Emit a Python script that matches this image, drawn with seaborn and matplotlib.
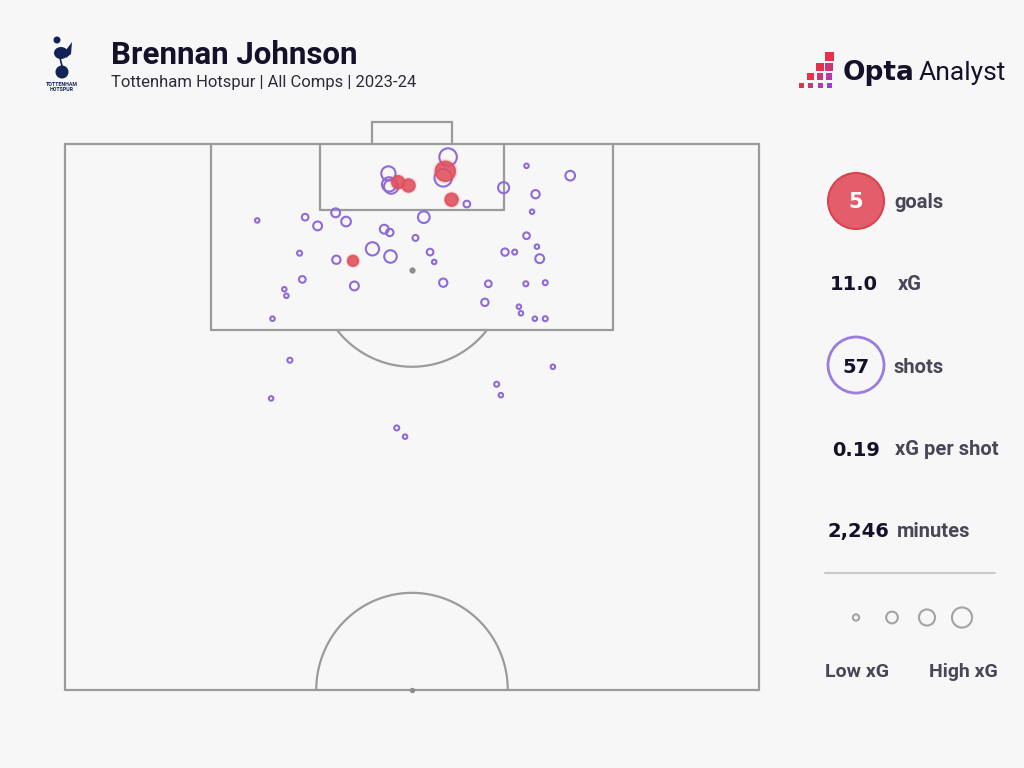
"""
Shot map: Brennan Johnson, Tottenham Hotspur, all comps 2023-24
Recreates the Opta Analyst style half-pitch chart
"""

import numpy as np
import pandas as pd
import matplotlib.pyplot as plt
import seaborn as sns
from matplotlib.patches import Circle, Ellipse, Rectangle, Polygon

sns.set_theme(style='white')
plt.rcParams['font.family'] = ['Roboto', 'DejaVu Sans']

# Data (pitch coords: x across 0-100, y along 50-100, goal at y=100)
shot_x = [27.7, 34.6, 36.4, 39.0, 40.5, 46.0, 46.8, 44.3, 46.9, 51.7,
          50.5, 52.6, 53.2, 54.5, 39.1, 33.8, 34.2, 31.6, 31.9, 29.9,
          41.7, 57.9, 63.2, 66.5, 72.8, 67.8, 67.3, 66.5, 68.0, 68.4,
          63.4, 64.8, 61.0, 66.4, 69.2, 60.5, 65.4, 65.7, 67.7, 69.2,
          46.6, 46.7, 47.0, 55.2, 54.5, 32.4, 29.7, 47.8, 49.0, 62.2,
          62.8, 70.3,
          48.0, 49.5, 54.8, 55.7, 41.5]
shot_y = [93.0, 93.3, 92.5, 93.7, 92.9, 92.2, 91.9, 90.4, 89.7, 93.3,
          91.4, 90.1, 89.2, 87.3, 89.4, 90.0, 87.6, 86.7, 86.1, 84.0,
          87.0, 94.5, 96.0, 98.0, 97.1, 95.4, 93.8, 91.6, 90.6, 89.5,
          90.1, 90.1, 87.2, 87.2, 87.3, 85.5, 85.1, 84.5, 84.0, 84.0,
          97.3, 96.3, 96.1, 98.8, 96.9, 80.2, 76.7, 74.0, 73.2, 78.0,
          77.0, 79.6,
          96.5, 96.2, 97.5, 94.9, 89.3]
shot_xg = [0.01, 0.06, 0.13, 0.13, 0.16, 0.13, 0.08, 0.33, 0.29, 0.25,
           0.04, 0.06, 0.01, 0.11, 0.11, 0.02, 0.06, 0.01, 0.01, 0.01,
           0.13, 0.06, 0.22, 0.01, 0.16, 0.11, 0.01, 0.06, 0.01, 0.13,
           0.08, 0.02, 0.06, 0.02, 0.02, 0.08, 0.01, 0.01, 0.01, 0.02,
           0.39, 0.39, 0.39, 0.60, 0.60, 0.02, 0.01, 0.02, 0.01, 0.02,
           0.01, 0.01,
           0.29, 0.29, 0.76, 0.29, 0.19]
shot_goal = [False] * 52 + [True] * 5

goals = 5
xg_total = 11.0
shots = 57
xg_per_shot = 0.19
minutes = 2246
legend_xg = [0.05, 0.25, 0.5, 0.8]

df = pd.DataFrame({'x': shot_x, 'y': shot_y, 'xg': shot_xg, 'goal': shot_goal})

# Styling
BG = '#f7f7f7'
LINE = '#9b9b9b'
PURPLE = '#8f6bd9'
RED = '#e0525e'
DARK = '#16112b'
LABEL = '#4a4658'
SIZES = (8, 260)

fig = plt.figure(figsize=(10.24, 7.68), dpi=100, facecolor=BG)

# Pitch axes
ax = fig.add_axes([65 / 1024, 78 / 768, 694 / 1024, 546 / 768])
ax.set_xlim(0, 100)
ax.set_ylim(50, 100)
ax.axis('off')


def pline(xs, ys):
    ax.plot(xs, ys, color=LINE, lw=1.6, clip_on=False, zorder=1,
            solid_joinstyle='miter')


pline([0, 100, 100, 0, 0], [50, 50, 100, 100, 50])
pline([21.1, 21.1, 78.9, 78.9], [100, 83, 83, 100])
pline([36.8, 36.8, 63.2, 63.2], [100, 94, 94, 100])
pline([44.2, 44.2, 55.8, 55.8], [100, 102, 102, 100])

t = np.linspace(0, 2 * np.pi, 600)
arc_x = 50 + 13.8 * np.cos(t)
arc_y = 88.5 + 8.9 * np.sin(t)
m = arc_y < 83
ax.plot(arc_x[m], arc_y[m], color=LINE, lw=1.6, zorder=1)
t2 = np.linspace(0, np.pi, 300)
ax.plot(50 + 13.8 * np.cos(t2), 50 + 8.9 * np.sin(t2), color=LINE, lw=1.6, zorder=1)
ax.scatter([50], [88.5], s=12, color='#8d8d8d', zorder=1)
ax.scatter([50], [50], s=8, color='#8d8d8d', zorder=1, clip_on=False)

# Shots
sns.scatterplot(data=df[~df['goal']], x='x', y='y', size='xg', sizes=SIZES,
                size_norm=(0, 1), legend=False, ax=ax, facecolors='none',
                edgecolor=PURPLE, linewidth=1.5, zorder=3, clip_on=False)
# soft glow behind goals
sns.scatterplot(data=df[df['goal']], x='x', y='y', size='xg', sizes=(40, 420),
                size_norm=(0, 1), legend=False, ax=ax, color=RED,
                edgecolor='none', alpha=0.12, zorder=4, clip_on=False)
sns.scatterplot(data=df[df['goal']], x='x', y='y', size='xg', sizes=SIZES,
                size_norm=(0, 1), legend=False, ax=ax, color=RED,
                edgecolor=RED, linewidth=1.5, alpha=0.88, zorder=5, clip_on=False)

# Overlay axes in pixel coords for header and side panel
ov = fig.add_axes([0, 0, 1, 1])
ov.set_xlim(0, 1024)
ov.set_ylim(768, 0)
ov.axis('off')

ov.text(111, 63.5, 'Brennan Johnson', fontsize=22.5, weight='bold', color=DARK, va='baseline')
ov.text(111, 87, 'Tottenham Hotspur | All Comps | 2023-24', fontsize=12, color='#2e2a3a', va='baseline')

# Crest (rough sketch)
NAVY = '#132257'
ov.add_patch(Circle((62, 72), 6.5, fc=NAVY, ec='none'))
ov.add_patch(Ellipse((61, 53), 14, 12, fc=NAVY, ec='none'))
ov.add_patch(Circle((57, 40), 3.5, fc=NAVY, ec='none'))
ov.add_patch(Polygon([[66, 50], [72, 42], [71, 54], [66, 58]], closed=True, fc=NAVY, ec='none'))
ov.plot([60, 62], [58, 66], color=NAVY, lw=1.2)
ov.text(62, 84, 'TOTTENHAM', fontsize=3.8, weight='bold', color=NAVY, ha='center', va='center')
ov.text(62, 89.5, 'HOTSPUR', fontsize=3.8, weight='bold', color=NAVY, ha='center', va='center')

# Opta Analyst logo
c_red = np.array([0.91, 0.19, 0.29])
c_pur = np.array([0.62, 0.23, 0.84])
cols_x = [801, 810.5, 820, 829]
rows_y = [56, 66.5, 76.5, 85]
sq = [9, 8, 6.5, 5]
for r in range(4):
    for c in range(3 - r, 4):
        f = (r + c - 3) / 3
        col = c_red * (1 - f) + c_pur * f
        s = sq[r]
        ov.add_patch(Rectangle((cols_x[c] - s / 2, rows_y[r] - s / 2), s, s, fc=col, ec='none'))
ov.text(843, 80, 'Opta', fontsize=19, weight='bold', color=DARK, va='baseline',
        family=['DejaVu Sans'])
ov.text(919, 80, 'Analyst', fontsize=19, color=DARK, va='baseline')

# Side panel
NUM_FONT = ['DejaVu Sans']
ov.add_patch(Circle((856, 201), 28, fc='#e35e6a', ec='#d8434f', lw=1.5))
ov.text(856, 208, f'{goals}', fontsize=15, weight='bold', color='white', ha='center',
        va='baseline', family=NUM_FONT)
ov.text(894, 208, 'goals', fontsize=14.5, weight='bold', color=LABEL, va='baseline')

ov.text(878, 290.5, f'{xg_total:.1f}', fontsize=14, weight='bold', color=DARK, ha='right',
        va='baseline', family=NUM_FONT)
ov.text(898, 290, 'xG', fontsize=14.5, weight='bold', color=LABEL, va='baseline')

ov.add_patch(Circle((856, 365), 28, fc='none', ec='#9b7de0', lw=2))
ov.text(856, 373, f'{shots}', fontsize=14, weight='bold', color=DARK, ha='center',
        va='baseline', family=NUM_FONT)
ov.text(893, 373, 'shots', fontsize=14.5, weight='bold', color=LABEL, va='baseline')

ov.text(880, 456, f'{xg_per_shot:.2f}', fontsize=14, weight='bold', color=DARK, ha='right',
        va='baseline', family=NUM_FONT)
ov.text(895, 455, 'xG per shot', fontsize=14.5, weight='bold', color=LABEL, va='baseline')

ov.text(889, 537.5, f'{minutes:,}', fontsize=14, weight='bold', color=DARK, ha='right',
        va='baseline', family=NUM_FONT)
ov.text(897, 537, 'minutes', fontsize=14.5, weight='bold', color=LABEL, va='baseline')

ov.plot([825, 995], [573, 573], color='#c9c9c9', lw=1.5)

leg_x = [856, 892, 927, 962]
ov.scatter(leg_x, [617.5] * 4, s=[SIZES[0] + (SIZES[1] - SIZES[0]) * v for v in legend_xg],
           facecolors='none', edgecolors='#a3a3a3', linewidths=1.5)
ov.text(857, 677, 'Low xG', fontsize=14, weight='bold', color=LABEL, ha='center', va='baseline')
ov.text(963, 677, 'High xG', fontsize=14, weight='bold', color=LABEL, ha='center', va='baseline')

fig.savefig('out.png', dpi=100, facecolor=BG)
